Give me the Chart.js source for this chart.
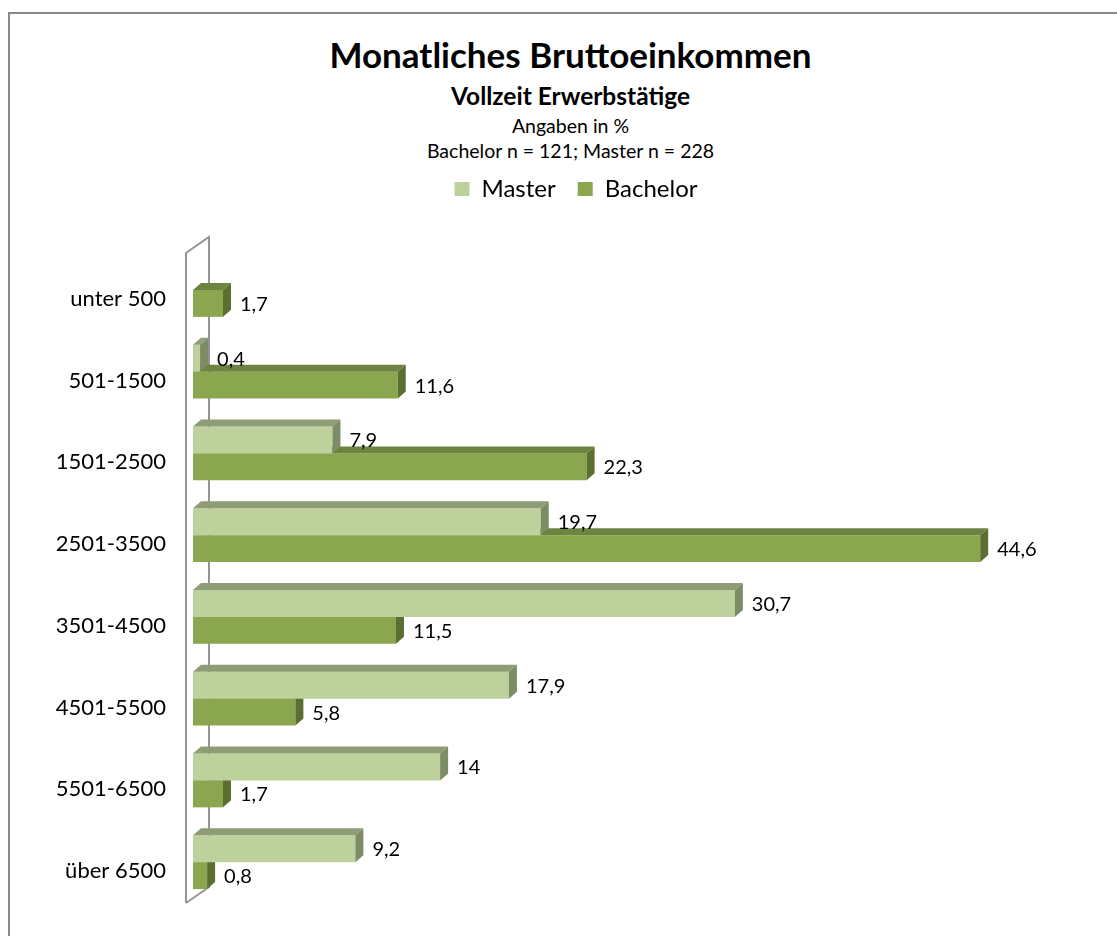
<!DOCTYPE html>
<html lang="de">
<head>
<meta charset="utf-8">
<title>Monatliches Bruttoeinkommen</title>
<script src="https://cdn.jsdelivr.net/npm/chart.js@4.4.1/dist/chart.umd.min.js"></script>
<style>
  html, body { margin: 0; padding: 0; background: #fff; overflow: hidden; }
  #page { position: relative; width: 1117px; height: 936px; overflow: hidden; font-family: Lato, 'Open Sans', sans-serif; color: #000; }
  #frame { position: absolute; left: 8px; top: 12px; width: 1300px; height: 1100px; border: 2px solid #8a8a8a; box-sizing: border-box; }
  .head { position: absolute; left: 0; width: 1141px; text-align: center; line-height: 1.2; white-space: nowrap; }
  #t1 { top: 33px; font-size: 35px; font-weight: bold; }
  #t2 { top: 80.5px; font-size: 24.5px; font-weight: bold; }
  #t3 { top: 113.5px; font-size: 19.5px; }
  #t4 { top: 139px; font-size: 19.5px; }
  #chart { position: absolute; left: 0; top: 0; }
</style>
</head>
<body>
<div id="page">
  <div id="frame"></div>
  <div class="head" id="t1">Monatliches Bruttoeinkommen</div>
  <div class="head" id="t2">Vollzeit Erwerbstätige</div>
  <div class="head" id="t3">Angaben in %</div>
  <div class="head" id="t4">Bachelor n = 121; Master n = 228</div>
  <canvas id="chart" width="1117" height="936"></canvas>
</div>
<script>
// --- data ---
const categories = ['unter 500', '501-1500', '1501-2500', '2501-3500', '3501-4500', '4501-5500', '5501-6500', 'über 6500'];
const masterValues = [null, 0.4, 7.9, 19.7, 30.7, 17.9, 14, 9.2];
const bachelorValues = [1.7, 11.6, 22.3, 44.6, 11.5, 5.8, 1.7, 0.8];
const seriesNames = ['Master', 'Bachelor'];

// front / top / side shades for the fake 3D bars
const SHADES = {
  Master:   { front: '#bcd19c', top: '#8e9d75', side: '#7e8c66' },
  Bachelor: { front: '#8aa64f', top: '#6c8440', side: '#5b6f32' }
};
const DEPTH_X = 8;
const DEPTH_Y = 7;
const FONT = "Lato, 'Open Sans', sans-serif";

const fmt = v => String(v).replace('.', ',');

// gray 3D wall behind the category axis
const wallPlugin = {
  id: 'wall',
  beforeDatasetsDraw(chart) {
    const { ctx, chartArea } = chart;
    const x0 = chart.scales.x.getPixelForValue(0);
    const frontX = x0 - 7, backX = x0 + 16;
    const top = chartArea.top, bottom = chartArea.bottom;
    ctx.save();
    ctx.strokeStyle = '#959595';
    ctx.lineWidth = 2;
    ctx.beginPath();
    ctx.moveTo(frontX, bottom);
    ctx.lineTo(frontX, top + 4);
    ctx.lineTo(backX, top - 12);
    ctx.lineTo(backX, bottom - 16);
    ctx.lineTo(frontX, bottom);
    ctx.stroke();
    ctx.restore();
  }
};

// top and side faces plus the value labels
const bar3dPlugin = {
  id: 'bar3d',
  afterDatasetDraw(chart, args) {
    const { ctx } = chart;
    const meta = args.meta;
    const ds = chart.data.datasets[args.index];
    const shade = SHADES[ds.label];
    ctx.save();
    meta.data.forEach((el, i) => {
      const v = ds.data[i];
      if (v === null || v === undefined) return;
      const { x, y, base, height } = el.getProps(['x', 'y', 'base', 'height'], true);
      const t = y - height / 2, b = y + height / 2;
      ctx.fillStyle = shade.top;
      ctx.beginPath();
      ctx.moveTo(base, t);
      ctx.lineTo(base + DEPTH_X, t - DEPTH_Y);
      ctx.lineTo(x + DEPTH_X, t - DEPTH_Y);
      ctx.lineTo(x, t);
      ctx.closePath();
      ctx.fill();
      ctx.fillStyle = shade.side;
      ctx.beginPath();
      ctx.moveTo(x, t);
      ctx.lineTo(x + DEPTH_X, t - DEPTH_Y);
      ctx.lineTo(x + DEPTH_X, b - DEPTH_Y);
      ctx.lineTo(x, b);
      ctx.closePath();
      ctx.fill();
    });
    ctx.restore();
  },
  afterDatasetsDraw(chart) {
    const { ctx } = chart;
    ctx.save();
    ctx.fillStyle = '#000';
    ctx.font = '20px ' + FONT;
    ctx.textAlign = 'left';
    ctx.textBaseline = 'middle';
    chart.data.datasets.forEach((ds, di) => {
      chart.getDatasetMeta(di).data.forEach((el, i) => {
        const v = ds.data[i];
        if (v === null || v === undefined) return;
        const { x, y } = el.getProps(['x', 'y'], true);
        ctx.fillText(fmt(v), x + DEPTH_X + 9, y + 1);
      });
    });
    ctx.restore();
  }
};

new Chart(document.getElementById('chart'), {
  type: 'bar',
  data: {
    labels: categories,
    datasets: [
      { label: seriesNames[0], data: masterValues, backgroundColor: SHADES.Master.front },
      { label: seriesNames[1], data: bachelorValues, backgroundColor: SHADES.Bachelor.front }
    ]
  },
  options: {
    indexAxis: 'y',
    responsive: false,
    animation: false,
    categoryPercentage: 0.66,
    barPercentage: 1.0,
    layout: { padding: { left: 35, right: 0, top: 155, bottom: 33 } },
    plugins: {
      legend: {
        position: 'top',
        labels: { color: '#000', font: { family: FONT, size: 24 }, boxWidth: 15, boxHeight: 14, padding: 22 }
      },
      tooltip: { enabled: false }
    },
    scales: {
      x: {
        position: 'top',
        min: 0, max: 52.35,
        grid: { display: false, drawTicks: false },
        border: { display: false },
        ticks: { display: false },
        afterFit: s => { s.height = 38; }
      },
      y: {
        grid: { display: false, drawTicks: false },
        border: { display: false },
        ticks: { color: '#000', font: { family: FONT, size: 22 }, padding: 27, labelOffset: 9 },
        // fixed width; drop the label overhang so it doesn't shrink the plot
        afterFit: s => { s.width = 158; s.paddingTop = 0; s.paddingBottom = 0; }
      }
    }
  },
  plugins: [wallPlugin, bar3dPlugin]
});
</script>
</body>
</html>
